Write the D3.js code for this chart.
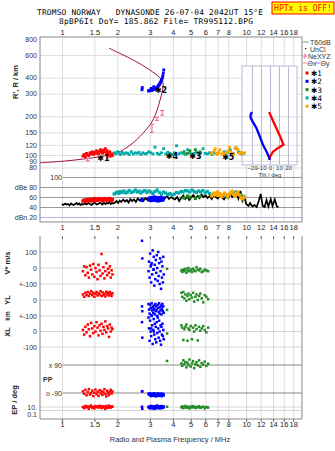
<!DOCTYPE html>
<html>
<head>
<meta charset="utf-8">
<script src="https://cdn.jsdelivr.net/npm/d3@7"></script>
<style>
body { margin: 0; background: #fff; }
svg text { font-family: "Liberation Sans", Arial, sans-serif; }
</style>
</head>
<body>
<svg id="chart" width="335" height="451"></svg>
<script>
// ---- data ----
const freqTicks = [1, 1.5, 2, 3, 4, 5, 6, 7, 8, 10, 12, 14, 16, 18];
const heightTicks = [800, 600, 400, 300, 200, 150, 120, 100, 90, 80];
const dbTicks = [100, 80, 60, 40, 20];
const dbTickLabels = ["100", "dBe 80", "60", "40", "dBn 20"];
const tiltTicks = [-20, -10, 0, 10, 20];

// echo sources: [freq MHz, virtual height km, amplitude dB, V* m/s, YL km, XL km, PP deg, EP deg]
const echo1 = [
  [1.30, 98, 52, -20, 35, 10, -80, 10], [1.32, 101, 54, 10, 20, -20, -95, 5],
  [1.34, 97, 51, -45, 45, 30, -70, 20], [1.36, 103, 55, 5, 30, -5, -105, 8],
  [1.38, 100, 53, -30, 50, 45, -85, 15], [1.40, 99, 54, -60, 25, 15, -65, 3],
  [1.42, 104, 56, 15, 40, -30, -100, 12], [1.44, 102, 52, -10, 55, 55, -90, 25],
  [1.46, 106, 55, -40, 30, 20, -75, 6], [1.48, 101, 53, 25, 45, -10, -110, 10],
  [1.50, 105, 57, -55, 20, 35, -88, 4], [1.52, 103, 54, 0, 38, 0, -68, 18],
  [1.54, 108, 56, -25, 50, 60, -98, 9], [1.56, 104, 53, -70, 28, 25, -82, 14],
  [1.58, 102, 55, 20, 42, -25, -108, 7], [1.60, 107, 57, -15, 35, 40, -72, 22],
  [1.62, 110, 54, -50, 55, 5, -92, 11], [1.64, 105, 56, 88, 25, 50, -78, 5],
  [1.66, 103, 52, -35, 48, -15, -102, 16], [1.68, 109, 55, 5, 30, 30, -86, 8],
  [1.70, 106, 57, -65, 40, 10, -66, 13], [1.72, 112, 54, -20, 22, 65, -96, 3],
  [1.74, 104, 56, 30, 52, -5, -112, 19], [1.76, 108, 53, -45, 35, 35, -76, 9],
  [1.78, 103, 55, -5, 45, 20, -90, 6], [1.80, 100, 57, -30, 28, -35, -104, 24],
  [1.82, 106, 54, 10, 50, 45, -84, 10], [1.84, 98, 56, -60, 38, 0, -70, 7],
  [1.86, 102, 53, -15, 25, 25, -94, 15], [1.88, 99, 55, -40, 42, 15, -80, 12]
];
const echo2 = [
  [2.72, 322, 53, 170, -40, 60, -78, 12], [2.73, 335, 55, 60, -70, -40, -80, 3],
  [2.95, 315, 56, -20, -25, 90, -95, 10], [2.97, 318, 54, 40, -60, 20, -100, 6],
  [2.99, 316, 58, -60, -85, -60, -92, 15], [3.01, 320, 55, 90, -30, 70, -105, 4],
  [3.03, 319, 57, 10, -50, 0, -98, 8], [3.05, 322, 53, -90, -95, -30, -110, 20],
  [3.07, 318, 59, 30, -20, 100, -94, 5], [3.09, 324, 56, -40, -65, 40, -102, 11],
  [3.11, 321, 54, 110, -45, -80, -96, 7], [3.13, 326, 58, -10, -80, 10, -108, 14],
  [3.15, 323, 55, 70, -35, 80, -100, 3], [3.17, 328, 60, -110, -55, -20, -92, 9],
  [3.19, 325, 57, 20, -90, 50, -104, 18], [3.21, 330, 53, -70, -25, -50, -98, 6],
  [3.23, 327, 56, 50, -70, 30, -112, 12], [3.25, 334, 59, -30, -40, -70, -95, 4],
  [3.27, 331, 54, 80, -60, 60, -101, 10], [3.29, 338, 58, 0, -100, -10, -106, 25],
  [3.31, 336, 56, -80, -30, 90, -97, 7], [3.33, 344, 52, 100, -50, 20, -93, 13],
  [3.35, 348, 55, -50, -75, -40, -109, 5], [3.37, 352, 57, 30, -20, 70, -99, 9],
  [3.39, 356, 54, -100, -85, 0, -103, 16], [3.41, 362, 59, 60, -45, -60, -95, 4],
  [3.43, 368, 56, -20, -65, 40, -107, 11], [3.45, 375, 53, -130, -35, -85, -100, 6],
  [3.47, 382, 58, 40, -90, 30, -94, 19], [3.49, 390, 55, -60, -55, -20, -111, 8],
  [3.51, 400, 57, 10, -25, 50, -98, 5], [3.53, 415, 54, -90, -70, -30, -102, 12],
  [3.55, 435, 56, 70, -40, 10, -96, 7], [3.57, 460, 58, -40, -80, -50, -105, 14],
  [3.05, 330, 53, 20, -50, 20, -100, 9], [3.15, 340, 55, -10, -60, 0, -99, 6]
];
// *3: few height echoes, more drift points
const echo3 = [[4.60, 106, 58], [4.80, 103, 62], [4.95, 108, 60], [5.30, 110, 57], [5.60, 106, 61]];
const drift3 = [
  [3.72, -5, -62, -13, 116, 12], [4.45, -15, 45, 40, 100, 8], [4.50, -25, 20, 25, 85, 15],
  [4.56, -10, 50, -55, 120, 5], [4.62, -20, 10, 15, 95, 10], [4.68, -5, 35, 30, 110, 20],
  [4.74, -30, -5, 45, 75, 6], [4.80, -15, 25, -60, 105, 12], [4.86, 0, 40, 20, 90, 9],
  [4.92, -20, 5, 10, 125, 4], [5.00, -10, 30, 35, 80, 14], [5.08, -25, 15, -50, 100, 7],
  [5.15, -5, 45, 25, 115, 18], [5.22, -15, -10, 0, 70, 10], [5.30, -20, 20, 40, 95, 5],
  [5.38, 5, 35, 15, 108, 11], [5.46, -10, 0, -58, 88, 8], [5.55, -15, 25, 30, 120, 16],
  [5.64, -5, 40, 5, 78, 6], [5.74, -25, 10, 20, 102, 9], [5.85, -20, -15, 35, 92, 13],
  [5.96, -10, 30, 10, 112, 4], [6.08, -15, 20, -5, 84, 10], [6.22, -20, 5, 25, 98, 7]
];
const echo4 = [
  [1.92, 104, 66], [1.96, 102, 68], [2.00, 106, 70], [2.04, 103, 67], [2.08, 101, 71],
  [2.12, 105, 69], [2.17, 102, 72], [2.22, 104, 68], [2.27, 103, 70], [2.32, 101, 73],
  [2.38, 106, 69], [2.44, 102, 71], [2.50, 104, 74], [2.56, 103, 70], [2.62, 105, 72],
  [2.68, 101, 68], [2.75, 104, 71], [2.82, 102, 73], [2.89, 103, 69], [2.96, 106, 72],
  [3.04, 104, 70], [3.12, 102, 67], [3.20, 115, 71], [3.29, 103, 74], [3.38, 101, 69],
  [3.47, 104, 66], [3.56, 112, 70], [3.66, 102, 68], [3.76, 105, 65], [3.86, 103, 67],
  [3.97, 101, 64], [4.08, 104, 66], [4.19, 118, 69], [4.31, 102, 68], [4.43, 104, 71],
  [4.55, 103, 70], [4.68, 101, 73], [4.81, 110, 72], [4.94, 104, 70], [5.08, 102, 74],
  [5.22, 103, 71], [5.37, 105, 69], [5.52, 101, 72], [5.67, 104, 70], [5.83, 112, 73],
  [5.99, 103, 68], [6.16, 102, 71], [6.33, 104, 67], [6.51, 101, 65], [6.69, 103, 66],
  [7.60, 106, 62], [7.90, 104, 64], [8.20, 110, 66], [8.50, 103, 68], [8.80, 114, 70],
  [9.10, 105, 65], [9.40, 102, 63], [9.70, 103, 61]
];
const echo5 = [
  [6.50, 104, 62], [6.60, 102, 65], [6.70, 108, 68], [6.80, 112, 64], [6.90, 103, 66],
  [7.00, 101, 70], [7.10, 105, 63], [7.20, 110, 67], [7.35, 102, 61], [7.50, 104, 65],
  [7.65, 100, 68], [7.80, 103, 64], [7.95, 107, 60], [8.10, 115, 66], [8.25, 106, 69],
  [8.40, 103, 72], [8.55, 101, 65], [8.70, 112, 62], [8.85, 114, 67], [9.00, 110, 70],
  [9.20, 103, 64], [9.40, 105, 58], [9.60, 102, 56], [9.80, 104, 60]
];
// background amplitude trace (dB)
const noiseLevel = [
  [1.00, 46], [1.02, 44], [1.04, 47], [1.06, 45], [1.08, 46], [1.10, 43], [1.12, 47], [1.14, 45],
  [1.16, 44], [1.18, 46], [1.20, 48], [1.22, 45], [1.24, 47], [1.26, 44], [1.28, 46], [1.30, 45],
  [1.33, 47], [1.36, 45], [1.39, 48], [1.42, 46], [1.45, 44], [1.48, 47], [1.51, 49], [1.54, 45],
  [1.57, 46], [1.60, 48], [1.63, 47], [1.66, 45], [1.69, 49], [1.72, 46], [1.75, 48], [1.78, 47],
  [1.81, 50], [1.84, 46], [1.87, 48], [1.90, 47], [1.94, 49], [1.98, 52], [2.02, 48], [2.06, 53],
  [2.10, 50], [2.15, 55], [2.20, 51], [2.25, 54], [2.30, 49], [2.35, 56], [2.40, 52], [2.46, 55],
  [2.52, 50], [2.58, 57], [2.64, 53], [2.70, 56], [2.77, 52], [2.84, 58], [2.91, 54], [2.98, 57],
  [3.05, 55], [3.13, 59], [3.21, 54], [3.29, 60], [3.37, 56], [3.45, 61], [3.54, 55], [3.63, 58],
  [3.72, 62], [3.81, 56], [3.91, 60], [4.01, 57], [4.11, 55], [4.22, 60], [4.33, 52], [4.44, 58],
  [4.55, 63], [4.67, 56], [4.79, 61], [4.91, 54], [5.04, 59], [5.17, 64], [5.30, 57], [5.44, 62],
  [5.58, 58], [5.72, 65], [5.87, 60], [6.02, 63], [6.18, 58], [6.34, 62], [6.50, 56], [6.67, 64],
  [6.84, 60], [7.02, 57], [7.20, 63], [7.39, 59], [7.58, 55], [7.78, 62], [7.98, 58], [8.19, 66],
  [8.40, 60], [8.62, 64], [8.84, 70], [9.07, 57], [9.31, 72], [9.55, 52], [9.80, 60], [10.0, 46],
  [10.3, 42], [10.5, 48], [10.8, 41], [11.1, 44], [11.4, 40], [11.7, 52], [12.0, 66], [12.3, 42],
  [12.6, 40], [12.9, 54], [13.2, 41], [13.6, 56], [13.9, 42], [14.3, 55], [14.7, 41], [15.0, 40]
];
// true-height profile [plasma freq, height]
const profile = [
  [0.76, 87], [1.06, 90], [1.61, 97], [1.99, 104], [2.34, 119], [2.76, 148], [3.12, 187],
  [3.41, 268], [3.54, 363], [3.41, 398], [3.00, 459], [2.43, 550], [1.89, 656], [1.80, 680]
];
// NeXYZ error bars [freq, low, high]
const neBars = [[1.38, 90, 94], [1.78, 95, 99], [3.08, 150, 174], [3.28, 186, 197], [3.50, 204, 222]];
// tilt profiles [height, deg]
const tiltX = [[216, -1], [194, 2], [171, 5.5], [151, 9], [136, 12], [120, 15], [113.5, 9], [106, 3.3], [96.5, 0], [91.5, -1]];
const tiltY = [[216, -20], [206, -21.5], [194, -21.4], [181, -19], [162, -15], [138, -11], [120, -7.8], [106, -3.7], [96.5, -1.1], [91.5, 0]];
// echo labels [text, freq, height]
const echoLabels = [["\u27311", 1.68, 95], ["\u27312", 3.45, 320], ["\u27314", 3.95, 98], ["\u27313", 5.3, 98], ["\u27315", 8.0, 97]];

const colors = { e1: "#ff0000", e2: "#0000ff", e3: "#228b22", e4: "#00aaaa", e5: "#ffa500" };

// ---- layout ----
const svg = d3.select("#chart");
const L = 40, R = 302;
const x = d3.scaleLog().domain([0.76, 20.1]).range([L, R]);
const yH = d3.scaleLog().domain([76.4, 829]).range([170, 37]);
const yDb = d3.scaleLinear().domain([20, 100]).range([217, 177]);
const yV = d3.scaleLinear().domain([-100, 100]).range([284, 252]);
const yYL = d3.scaleLinear().domain([-100, 100]).range([316, 284]);
const yXL = d3.scaleLinear().domain([-100, 100]).range([347, 316]);
const yPP = d3.scaleLinear().domain([-90, 90]).range([393, 365]);
const yEP = d3.scaleLog().domain([0.1, 10]).range([414, 407]);
const xTilt = d3.scaleLinear().domain([-31, 30]).range([242, 297]);

function clean(g, size, fill) {
  g.select(".domain").remove();
  g.attr("font-family", "Liberation Sans, Arial, sans-serif").attr("font-size", size);
  g.selectAll("text").attr("fill", fill || "#222");
}
function gridStyle(g, col) {
  g.select(".domain").remove();
  g.selectAll("line").attr("stroke", col).attr("stroke-width", 1);
}

// ---- header ----
svg.append("text").attr("x", 150).attr("y", 14.5).attr("text-anchor", "middle")
  .style("font-family", "DejaVu Sans Mono, monospace").attr("font-size", 7.9).attr("fill", "#000")
  .attr("xml:space", "preserve").attr("textLength", 226).text("TROMSO NORWAY   DYNASONDE 26-07-04 2042UT 15\u00B0E");
svg.append("text").attr("x", 156).attr("y", 23.5).attr("text-anchor", "middle")
  .style("font-family", "DejaVu Sans Mono, monospace").attr("font-size", 7.9).attr("fill", "#000")
  .attr("textLength", 194).text("8pBP6It DoY= 185.862 File= TR995112.BPG");
svg.append("rect").attr("x", 272).attr("y", 2).attr("width", 62).attr("height", 12)
  .attr("fill", "#ffff00").attr("stroke", "#ff0000");
svg.append("text").attr("x", 303).attr("y", 11.3).attr("text-anchor", "middle")
  .style("font-family", "DejaVu Sans Mono, monospace").attr("font-size", 8).attr("fill", "#ff0000")
  .text("HPTx is OFF!");

// ---- upper frame: heights + amplitude ----
svg.append("g").attr("transform", "translate(0,37)")
  .call(d3.axisBottom(x).tickValues(freqTicks).tickSize(185).tickFormat(""))
  .call(g => gridStyle(g, "#dcdcdc"));
svg.append("g").attr("transform", `translate(${R},0)`)
  .call(d3.axisLeft(yH).tickValues(heightTicks.slice(1)).tickSize(R - L).tickFormat(""))
  .call(g => gridStyle(g, "#dcdcdc"));
svg.append("g").attr("transform", `translate(${R},0)`)
  .call(d3.axisLeft(yDb).tickValues(dbTicks).tickSize(R - L).tickFormat(""))
  .call(g => gridStyle(g, "#999"))
  .call(g => g.selectAll(".tick line").filter(d => d === 20).attr("stroke", "#b4b4ee"))
  .call(g => g.selectAll(".tick line").filter(d => d === 100).attr("x2", -(R - 63)));

svg.append("g").attr("transform", `translate(${L},0)`)
  .call(d3.axisLeft(yH).tickValues(heightTicks).tickSize(0).tickPadding(3).tickFormat(d3.format("")))
  .call(g => clean(g, 7, "#333"));
svg.append("g").attr("transform", `translate(${L},0)`)
  .call(d3.axisLeft(yDb).tickValues(dbTicks).tickSize(0).tickPadding(3).tickFormat((d, i) => dbTickLabels[i]))
  .call(g => clean(g, 7, "#333"))
  .call(g => g.selectAll(".tick text").filter(d => d === 100).attr("x", 22));

svg.append("g").attr("transform", "translate(0,37)")
  .call(d3.axisTop(x).tickValues(freqTicks).tickSize(0).tickPadding(2).tickFormat(d3.format("")))
  .call(g => clean(g, 7.5));
svg.append("g").attr("transform", "translate(0,222)")
  .call(d3.axisBottom(x).tickValues(freqTicks).tickSize(0).tickPadding(3).tickFormat(d3.format("")))
  .call(g => clean(g, 7.5));

svg.append("text").attr("transform", "translate(17.5,82) rotate(-90)").attr("text-anchor", "middle")
  .attr("font-size", 7.5).attr("font-weight", "bold").attr("fill", "#222").text("R', R / km");

// tilt inset
const inset = svg.append("g");
inset.append("rect").attr("x", 242).attr("y", 66).attr("width", 55).attr("height", 99).attr("fill", "#fff");
inset.append("g").attr("transform", "translate(297,0)")
  .call(d3.axisLeft(yH).tickValues([200, 150, 120, 100, 90]).tickSize(55).tickFormat(""))
  .call(g => gridStyle(g, "#dcdcdc"));
inset.append("g").attr("transform", "translate(0,66)")
  .call(d3.axisBottom(xTilt).tickValues(tiltTicks).tickSize(99).tickFormat(""))
  .call(g => gridStyle(g, "#b8b8d8"));
inset.append("rect").attr("x", 242).attr("y", 66).attr("width", 55).attr("height", 99)
  .attr("fill", "none").attr("stroke", "#b8b8d8");
inset.append("g").attr("transform", "translate(0,165)")
  .call(d3.axisBottom(xTilt).tickValues(tiltTicks).tickSize(0).tickPadding(1).tickFormat(d3.format("")))
  .call(g => clean(g, 6, "#333"));
inset.append("text").attr("x", 270).attr("y", 177).attr("text-anchor", "middle")
  .attr("font-size", 6).attr("fill", "#333").text("Tilt / deg");
const tiltLine = d3.line().x(d => xTilt(d[1])).y(d => yH(d[0]));
inset.append("path").datum(tiltX).attr("d", tiltLine).attr("fill", "none").attr("stroke", "#ff0000").attr("stroke-width", 2.3);
inset.append("path").datum(tiltY).attr("d", tiltLine).attr("fill", "none").attr("stroke", "#0000ff").attr("stroke-width", 2.3);

// frame
svg.append("rect").attr("x", L).attr("y", 37).attr("width", R - L).attr("height", 185)
  .attr("fill", "none").attr("stroke", "#888");

// profile curve and error bars
svg.append("path").datum(profile)
  .attr("d", d3.line().x(d => x(d[0])).y(d => yH(d[1])).curve(d3.curveCatmullRom))
  .attr("fill", "none").attr("stroke", "#a3123f").attr("stroke-width", 1);
const bars = svg.append("g").attr("stroke", "#e8609a").attr("stroke-width", 1);
neBars.forEach(b => {
  const cx = x(b[0]);
  bars.append("line").attr("x1", cx).attr("x2", cx).attr("y1", yH(b[1])).attr("y2", yH(b[2]));
  bars.append("line").attr("x1", cx - 2).attr("x2", cx + 2).attr("y1", yH(b[1])).attr("y2", yH(b[1]));
  bars.append("line").attr("x1", cx - 2).attr("x2", cx + 2).attr("y1", yH(b[2])).attr("y2", yH(b[2]));
});

// amplitude trace
svg.append("path").datum(noiseLevel)
  .attr("d", d3.line().x(d => x(d[0])).y(d => yDb(d[1])))
  .attr("fill", "none").attr("stroke", "#000").attr("stroke-width", 1.7);

function squares(data, fx, fy, color, s) {
  svg.append("g").selectAll("rect").data(data).join("rect")
    .attr("x", d => fx(d) - s / 2).attr("y", d => fy(d) - s / 2)
    .attr("width", s).attr("height", s).attr("fill", color);
}
const fx0 = d => x(d[0]);
[[echo4, colors.e4], [echo5, colors.e5], [echo3, colors.e3], [echo1, colors.e1], [echo2, colors.e2]].forEach(([data, c]) => {
  squares(data, fx0, d => yH(d[1]), c, 2.8);
  squares(data, fx0, d => yDb(d[2]), c, 3.2);
});

svg.append("g").selectAll("text").data(echoLabels).join("text")
  .attr("x", d => x(d[1])).attr("y", d => yH(d[2]) + 3).attr("text-anchor", "middle")
  .style("font-family", "DejaVu Sans, sans-serif").attr("font-size", 8).attr("font-weight", "bold")
  .attr("fill", "#000").text(d => d[0]);

// ---- legend ----
const lg = svg.append("g").attr("font-size", 7).attr("fill", "#333");
lg.append("line").attr("x1", 303).attr("x2", 309).attr("y1", 42).attr("y2", 42).attr("stroke", "#999");
lg.append("text").attr("x", 310).attr("y", 44.5).text("T60dB");
lg.append("rect").attr("x", 305).attr("y", 48).attr("width", 1.2).attr("height", 1.2).attr("fill", "#000");
lg.append("text").attr("x", 310).attr("y", 51.5).text("UnCl");
lg.append("path").attr("d", "M302.5,56h5M305,53.5v5").attr("stroke", "#e8609a");
lg.append("text").attr("x", 308).attr("y", 58.5).text("NeXYZ");
lg.append("line").attr("x1", 302.5).attr("x2", 307).attr("y1", 63).attr("y2", 63).attr("stroke", "#ff8080");
lg.append("text").attr("x", 307.5).attr("y", 65.5).text("\u0398x");
lg.append("line").attr("x1", 315.5).attr("x2", 320).attr("y1", 63).attr("y2", 63).attr("stroke", "#8080ff");
lg.append("text").attr("x", 320.5).attr("y", 65.5).text("\u0398y");
const legendItems = [["\u27311", colors.e1], ["\u27312", colors.e2], ["\u27313", colors.e3], ["\u27314", colors.e4], ["\u27315", colors.e5]];
legendItems.forEach(([t, c], i) => {
  const yy = 73 + i * 8.3;
  lg.append("rect").attr("x", 305.5).attr("y", yy - 1.5).attr("width", 3).attr("height", 3).attr("fill", c);
  lg.append("text").attr("x", 311).attr("y", yy + 3).style("font-family", "DejaVu Sans, sans-serif")
    .attr("font-size", 7.5).attr("fill", "#000").text(t);
});

// ---- lower frame: drift / polarisation ----
svg.append("g").attr("transform", "translate(0,236)")
  .call(d3.axisBottom(x).tickValues(freqTicks).tickSize(183).tickFormat(""))
  .call(g => gridStyle(g, "#e2dadd"));
const rowLines = [[yV, 100], [yV, 0], [yV, -100], [yYL, 0], [yYL, -100], [yXL, 0], [yXL, -100], [yEP, 10], [yEP, 1]];
rowLines.forEach(([s, v]) => {
  svg.append("line").attr("x1", L).attr("x2", R).attr("y1", s(v)).attr("y2", s(v)).attr("stroke", "#d6d6d6");
});
[90, -90].forEach(v => {
  svg.append("line").attr("x1", 63).attr("x2", R).attr("y1", yPP(v)).attr("y2", yPP(v)).attr("stroke", "#888");
});
svg.append("path").attr("d", `M${L},236V419H${R}V236`).attr("fill", "none").attr("stroke", "#888");
svg.append("g").attr("transform", "translate(0,236)")
  .call(d3.axisBottom(x).tickValues(freqTicks).tickSize(3).tickFormat(""))
  .call(g => gridStyle(g, "#666"));
svg.append("g").attr("transform", "translate(0,419)")
  .call(d3.axisBottom(x).tickValues(freqTicks).tickSize(3).tickPadding(0).tickFormat(d3.format("")))
  .call(g => clean(g, 7.5))
  .call(g => g.selectAll("line").attr("stroke", "#666"));

const rowLabels = [[yV, 100, "100"], [yV, 0, "0"], [yV, -100, "+-100"], [yYL, 0, "0"], [yYL, -100, "+-100"],
  [yXL, 0, "0"], [yXL, -100, "-100"], [yEP, 10, "10."], [yEP, 0.1, "0.1"]];
svg.append("g").selectAll("text").data(rowLabels).join("text")
  .attr("x", 37).attr("y", d => d[0](d[1]) + 2.5).attr("text-anchor", "end")
  .attr("font-size", 7).attr("fill", "#333").text(d => d[2]);
const ppLabels = [[90, "x 90"], [-90, "o -90"]];
svg.append("g").selectAll("text").data(ppLabels).join("text")
  .attr("x", 62).attr("y", d => yPP(d[0]) + 2.5).attr("text-anchor", "end")
  .attr("font-size", 7).attr("fill", "#333").text(d => d[1]);
svg.append("text").attr("x", 43).attr("y", 381.5).attr("font-size", 7).attr("font-weight", "bold").attr("fill", "#333").text("PP");

const rot = (tx, ty, txt, size) => svg.append("text").attr("transform", `translate(${tx},${ty}) rotate(-90)`)
  .attr("text-anchor", "middle").attr("font-size", size).attr("font-weight", "bold").attr("fill", "#222").text(txt);
rot(10, 263, "V* m/s", 7.5);
rot(10, 300, "YL", 7.5);
rot(10, 316, "km", 6.5);
rot(10, 332, "XL", 7.5);
rot(17, 400, "EP / deg", 7.5);

const drifts = [
  [echo1, colors.e1, d => [d[3], d[4], d[5], d[6], d[7]]],
  [echo2, colors.e2, d => [d[3], d[4], d[5], d[6], d[7]]],
  [drift3, colors.e3, d => [d[1], d[2], d[3], d[4], d[5]]]
];
drifts.forEach(([data, c, pick]) => {
  squares(data, fx0, d => yV(pick(d)[0]), c, 2.5);
  squares(data, fx0, d => yYL(pick(d)[1]), c, 2.5);
  squares(data, fx0, d => yXL(pick(d)[2]), c, 2.5);
  squares(data, fx0, d => yPP(pick(d)[3]), c, 2.5);
  squares(data, fx0, d => yEP(pick(d)[4]), c, 2.5);
});

svg.append("text").attr("x", 170).attr("y", 442).attr("text-anchor", "middle")
  .attr("font-size", 7.5).attr("fill", "#333").text("Radio and Plasma Frequency / MHz");
</script>
</body>
</html>
